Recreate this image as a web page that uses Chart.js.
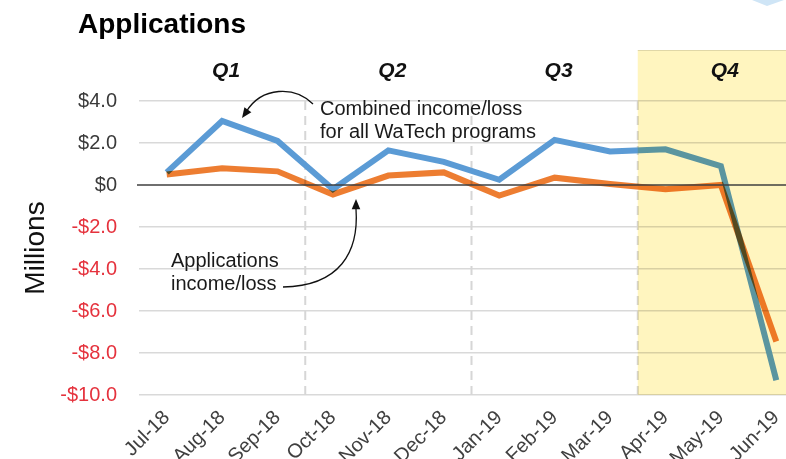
<!DOCTYPE html>
<html><head><meta charset="utf-8">
<script src="https://cdn.jsdelivr.net/npm/chart.js@4.4.0/dist/chart.umd.min.js"></script>
<style>html,body{margin:0;padding:0;background:#fff;overflow:hidden;width:786px;height:459px}canvas{display:block}</style>
</head><body>
<canvas id="c" width="810" height="459"></canvas>
<script>
const months = ['Jul-18','Aug-18','Sep-18','Oct-18','Nov-18','Dec-18','Jan-19','Feb-19','Mar-19','Apr-19','May-19','Jun-19'];
const combinedIncome = [0.6, 3.05, 2.1, -0.2, 1.65, 1.1, 0.25, 2.15, 1.6, 1.7, 0.9, -9.3];
const applicationsIncome = [0.5, 0.8, 0.65, -0.45, 0.45, 0.6, -0.5, 0.35, 0.05, -0.2, 0.0, -7.45];
const quarterLabels = ['Q1','Q2','Q3','Q4'];
const yTickValues = [4, 2, 0, -2, -4, -6, -8, -10];
const yTickLabels = ['$4.0','$2.0','$0','-$2.0','-$4.0','-$6.0','-$8.0','-$10.0'];
const titleText = 'Applications';
const yAxisTitle = 'Millions';
const noteCombined = ['Combined income/loss','for all WaTech programs'];
const noteApps = ['Applications','income/loss'];

const FONT = "'Liberation Sans', Arial, Helvetica, sans-serif";
Chart.defaults.font.family = FONT;

function arrowHead(ctx, tipX, tipY, fromX, fromY, size) {
  const ang = Math.atan2(tipY - fromY, tipX - fromX);
  ctx.beginPath();
  ctx.moveTo(tipX, tipY);
  ctx.lineTo(tipX - size * Math.cos(ang - 0.4), tipY - size * Math.sin(ang - 0.4));
  ctx.lineTo(tipX - size * Math.cos(ang + 0.4), tipY - size * Math.sin(ang + 0.4));
  ctx.closePath();
  ctx.fill();
}

const decor = {
  id: 'decor',
  beforeDraw(chart) {
    const ctx = chart.ctx;
    ctx.save(); ctx.fillStyle = '#ffffff'; ctx.fillRect(0, 0, chart.width, chart.height); ctx.restore();
  },
  beforeDatasetsDraw(chart) {
    const { ctx, chartArea: a, scales: { x } } = chart;
    ctx.save();
    ctx.strokeStyle = '#d6d6d6'; ctx.lineWidth = 2; ctx.setLineDash([9, 6]);
    for (let q = 1; q < quarterLabels.length; q++) {
      const px = (x.getPixelForValue(3 * q - 1) + x.getPixelForValue(3 * q)) / 2;
      ctx.beginPath(); ctx.moveTo(px, a.top); ctx.lineTo(px, a.bottom); ctx.stroke();
    }
    ctx.restore();
  },
  beforeDatasetDraw(chart, args) {
    if (args.index === 0) { chart.ctx.save(); chart.ctx.globalCompositeOperation = 'multiply'; }
  },
  afterDatasetDraw(chart, args) {
    if (args.index === 0) { chart.ctx.restore(); }
  },
  afterDatasetsDraw(chart) {
    const { ctx, chartArea: a, scales: { x, y } } = chart;
    ctx.save();
    // Q4 highlight
    const q4 = (x.getPixelForValue(8) + x.getPixelForValue(9)) / 2;
    ctx.globalCompositeOperation = 'multiply';
    ctx.fillStyle = '#fff5bf';
    ctx.fillRect(q4, 50, chart.width - q4, a.bottom - 50);
    ctx.globalCompositeOperation = 'source-over';
    ctx.strokeStyle = 'rgba(0,0,0,0.12)'; ctx.lineWidth = 1;
    ctx.beginPath(); ctx.moveTo(q4, 50.5); ctx.lineTo(chart.width, 50.5); ctx.stroke();
    // zero line
    const y0 = y.getPixelForValue(0);
    ctx.strokeStyle = '#3f3f3f'; ctx.lineWidth = 1.6;
    ctx.beginPath(); ctx.moveTo(a.left - 2, y0); ctx.lineTo(a.right, y0); ctx.stroke();
    // quarter labels
    ctx.fillStyle = '#111'; ctx.font = 'italic bold 21px ' + FONT; ctx.textAlign = 'center'; ctx.textBaseline = 'alphabetic';
    quarterLabels.forEach((q, i) => {
      const cx = (x.getPixelForValue(3 * i) + x.getPixelForValue(3 * i + 2)) / 2 + 4;
      ctx.fillText(q, cx, 77);
    });
    // title
    ctx.textAlign = 'left'; ctx.font = 'bold 28px ' + FONT; ctx.fillStyle = '#000';
    ctx.fillText(titleText, 78, 33);
    // annotations
    ctx.font = '20px ' + FONT; ctx.fillStyle = '#1a1a1a';
    ctx.fillText(noteCombined[0], 320, 115);
    ctx.fillText(noteCombined[1], 320, 138);
    ctx.fillText(noteApps[0], 171, 267);
    ctx.fillText(noteApps[1], 171, 290);
    // arrows
    ctx.strokeStyle = '#111'; ctx.fillStyle = '#111'; ctx.lineWidth = 1.3;
    ctx.beginPath(); ctx.moveTo(313, 104); ctx.bezierCurveTo(295, 86, 262, 86, 246, 112); ctx.stroke();
    arrowHead(ctx, 242, 118, 252, 104, 11);
    ctx.beginPath(); ctx.moveTo(283, 287); ctx.bezierCurveTo(340, 286, 359, 252, 356, 209); ctx.stroke();
    arrowHead(ctx, 356, 199, 356, 215, 11);
    // corner decoration
    ctx.fillStyle = '#cfe5f6';
    ctx.beginPath(); ctx.moveTo(752, 0); ctx.lineTo(767, 6); ctx.lineTo(784, 0); ctx.closePath(); ctx.fill();
    ctx.restore();
  }
};

new Chart(document.getElementById('c'), {
  type: 'line',
  data: {
    labels: months,
    datasets: [
      { label: 'Applications income/loss', data: applicationsIncome, borderColor: '#ed7d31', backgroundColor: '#ed7d31', borderWidth: 6, pointRadius: 0, tension: 0, fill: false },
      { label: 'Combined income/loss', data: combinedIncome, borderColor: '#5b9bd5', backgroundColor: '#5b9bd5', borderWidth: 6, pointRadius: 0, tension: 0, fill: false }
    ]
  },
  options: {
    responsive: false,
    animation: false,
    devicePixelRatio: 1,
    layout: { padding: { top: 101, right: 6, left: 0, bottom: 0 } },
    plugins: { legend: { display: false }, tooltip: { enabled: false }, title: { display: false } },
    scales: {
      x: {
        offset: true,
        grid: { display: false, drawTicks: false },
        border: { display: false },
        ticks: { autoSkip: false, maxRotation: 45, minRotation: 45, color: '#404040', font: { size: 20 }, padding: 11 },
        afterFit(s) { s.height = 64; }
      },
      y: {
        min: -10, max: 4,
        afterBuildTicks(s) { s.ticks = yTickValues.map(v => ({ value: v })); },
        grid: {
          drawTicks: false,
          color: ctx => (ctx.tick && ctx.tick.value === 0) ? 'rgba(0,0,0,0)' : '#d9d9d9',
          lineWidth: 1.6
        },
        border: { display: false },
        ticks: {
          padding: 22,
          font: { size: 20 },
          color: ctx => (ctx.tick && ctx.tick.value < 0) ? '#e5323d' : '#3a3a3a',
          callback: v => yTickLabels[yTickValues.indexOf(v)]
        },
        title: { display: true, text: yAxisTitle, color: '#111', font: { size: 28 }, padding: { top: 19, bottom: 0 } },
        afterFit(s) { s.width = 139; }
      }
    }
  },
  plugins: [decor]
});
</script>
</body></html>
